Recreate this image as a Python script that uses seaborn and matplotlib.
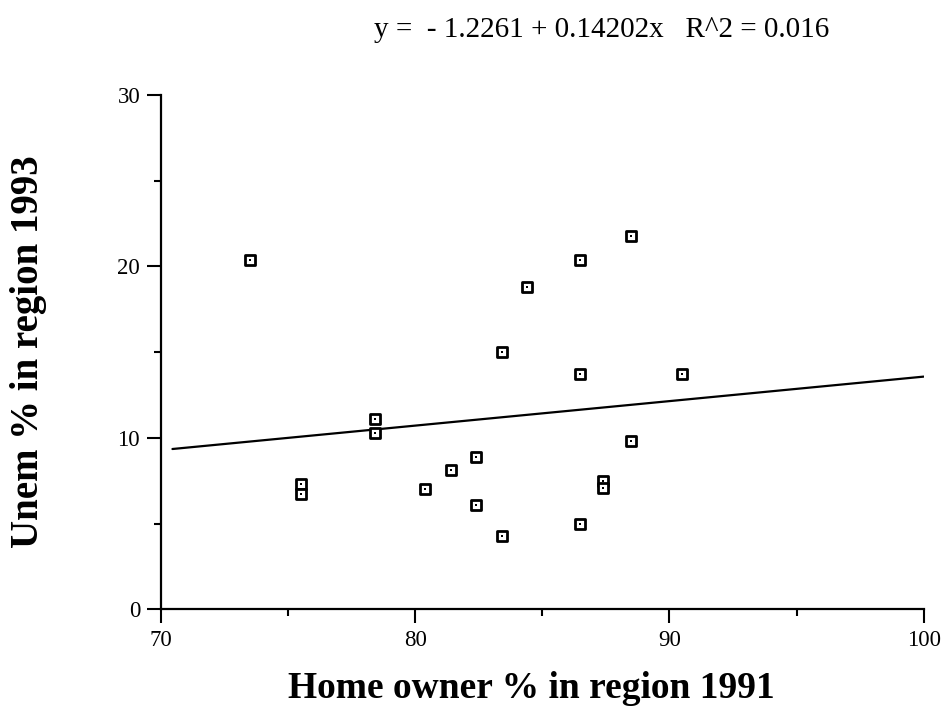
import numpy as np
import pandas as pd
import matplotlib
matplotlib.use("Agg")
import matplotlib.pyplot as plt
from matplotlib.ticker import MultipleLocator
import seaborn as sns

# Data
home_owner_1991 = [73.5, 88.5, 86.5, 84.4, 83.4, 86.5, 90.5, 88.5, 82.4, 81.4,
                   87.4, 87.4, 82.4, 83.4, 86.5, 78.4, 78.4, 75.5, 75.5, 80.4]
unem_1993 = [20.4, 21.8, 20.4, 18.8, 15.0, 13.7, 13.7, 9.8, 8.9, 8.1,
             7.5, 7.1, 6.1, 4.3, 5.0, 11.1, 10.3, 7.3, 6.7, 7.0]
x_ticks = [70, 80, 90, 100]
y_ticks = [0, 10, 20, 30]
title_text = "y =  - 1.2261 + 0.14202x   R^2 = 0.016"
x_label = "Home owner % in region 1991"
y_label = "Unem % in region 1993"

df = pd.DataFrame({"x": home_owner_1991, "y": unem_1993})

sns.set_theme(style="ticks")
plt.rcParams["font.family"] = ["Liberation Serif", "DejaVu Serif"]

fig = plt.figure(figsize=(9.48, 7.18), dpi=100)
ax = fig.add_axes([161 / 948, 1 - 609.3 / 718, (923.7 - 161) / 948, (609.3 - 95) / 718])

# regression line spanning the fitted range as in reference
ax.set_xlim(70.45, 100)
sns.regplot(data=df, x="x", y="y", ci=None, truncate=False, scatter=False,
            line_kws={"color": "black", "linewidth": 1.6, "zorder": 2}, ax=ax)

sns.scatterplot(data=df, x="x", y="y", marker="s", s=62, color="white",
                edgecolor="black", linewidth=2.0, zorder=3, ax=ax)
sns.scatterplot(data=df, x="x", y="y", marker="s", s=4.5, color="black",
                edgecolor="black", linewidth=0, zorder=4, ax=ax)

ax.set_xlim(70, 100)
ax.set_ylim(0, 30)
ax.set_xticks(x_ticks)
ax.set_yticks(y_ticks)
ax.xaxis.set_minor_locator(MultipleLocator(5))
ax.yaxis.set_minor_locator(MultipleLocator(5))
ax.tick_params(which="major", direction="out", length=10, width=1.5,
               labelsize=16.5, color="black", labelcolor="black", pad=5)
ax.tick_params(which="minor", direction="out", length=5, width=1.5, color="black")
for side in ["left", "bottom"]:
    ax.spines[side].set_linewidth(1.6)
    ax.spines[side].set_color("black")
sns.despine(ax=ax)
ax.set_xlabel("")
ax.set_ylabel("")

fig.text(602 / 948, 1 - 30 / 718, title_text, ha="center", va="center",
         fontsize=21, color="black")
fig.text(531 / 948, 1 - 688 / 718, x_label, ha="center", va="center",
         fontsize=27, fontweight="bold", color="black")
fig.text(29 / 948, 1 - 352 / 718, y_label, ha="center", va="center",
         rotation=90, fontsize=28, fontweight="bold", color="black")

fig.savefig("out.png", dpi=100, facecolor="white")
